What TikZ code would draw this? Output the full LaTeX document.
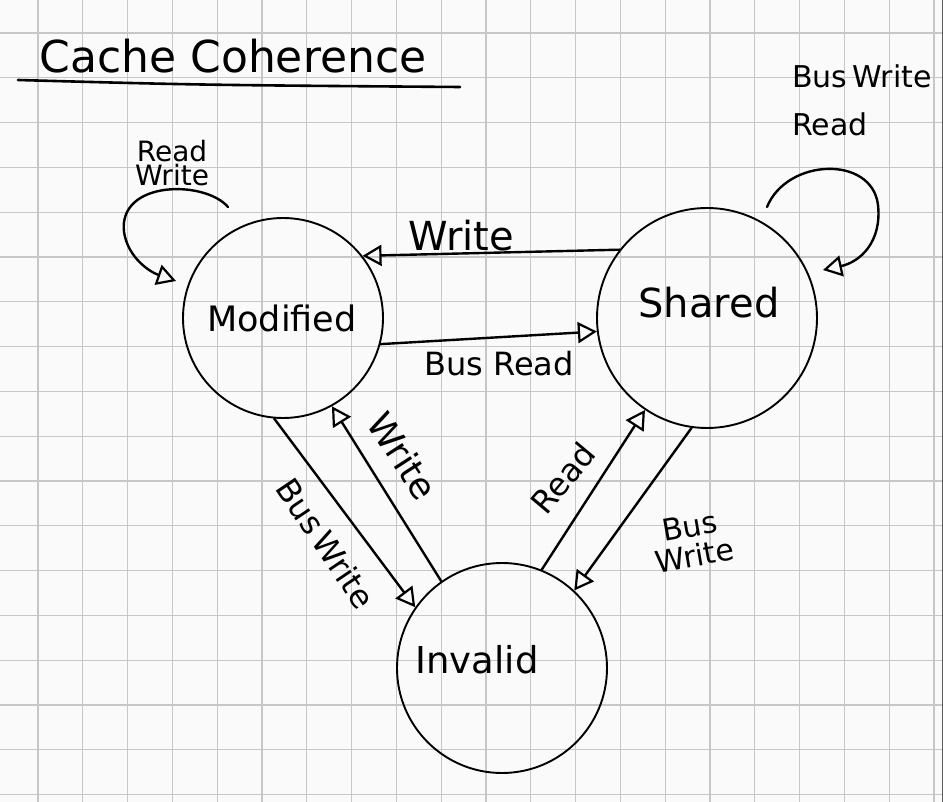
\documentclass[tikz,border=0pt]{standalone}
\usepackage{fontspec}
\setmainfont{DejaVu Sans}
\usetikzlibrary{arrows.meta}
\begin{document}
\begin{tikzpicture}[x=1pt,y=-1pt,
  gridline/.style={draw=black!22, line width=1.2pt},
  state/.style={draw=black, circle, line width=1.9pt, inner sep=0pt},
  trans/.style={draw=black, line width=2.4pt, line cap=round,
    -{Triangle[open, length=19pt, width=21pt, line width=2.2pt]}},
  lbl/.style={inner sep=0pt, text=black},
]
% background and page
\fill[white!98!black] (0,0) rectangle (943,802);
\useasboundingbox (0,0) rectangle (943,802);
\foreach \k in {0,...,20} \draw[gridline] ({38+44.8*\k},0) -- ({38+44.8*\k},802);
\foreach \k in {0,...,17} \draw[gridline] (0,{33+44.8*\k}) -- (943,{33+44.8*\k});
\draw[black!65, line width=1pt] (942.5,0) -- (942.5,802);

% title
\node[lbl, font=\fontsize{44}{50}\selectfont] (title) at (233,56) {Cache Coherence};
\coordinate (ulA) at (18,80);
\coordinate (ulB) at (460,87);
\draw[line width=2.6pt, line cap=round] (ulA) .. controls (200,85) .. (ulB);

% states
\node[state, minimum size=200pt] (M) at (283,318) {};
\node[state, minimum size=220pt] (S) at (707,318) {};
\node[state, minimum size=210pt] (I) at (502,668) {};
\node[lbl, font=\fontsize{35}{40}\selectfont] (Mt) at (282,318) {Modified};
\node[lbl, font=\fontsize{40}{44}\selectfont] (St) at (709,303) {Shared};
\node[lbl, font=\fontsize{37}{42}\selectfont] (It) at (477,660) {Invalid};

% transitions
\draw[trans] (S.142) -- (M.38);
\node[lbl, font=\fontsize{40}{44}\selectfont] (l1) at (461,236) {Write};
\draw[trans] (M.-15) -- (S.-173);
\node[lbl, font=\fontsize{32}{36}\selectfont] (l2) at (499,364) {Bus Read};

\draw[trans] (I.125) -- (M.-61);
\node[lbl, font=\fontsize{36}{40}\selectfont, rotate=-57] (l3) at (403,456) {Write};
\draw[trans] (M.-95) -- (I.145);
\node[lbl, font=\fontsize{32}{36}\selectfont, rotate=-56] (l4) at (326,543) {Bus\,Write};

\draw[trans] (I.68) -- (S.-124);
\node[lbl, font=\fontsize{32}{36}\selectfont, rotate=50] (l5) at (563,478) {Read};
\draw[trans] (S.-98) -- (I.47);
\node[lbl, font=\fontsize{30}{30}\selectfont, rotate=10, align=center] (l6) at (692,541) {Bus\\Write};

% self loops
\coordinate (mA) at (228,207);
\coordinate (mB) at (176,281);
\draw[trans] (mA) .. controls (205,180) and (118,180) .. (124,232) .. controls (128,258) and (150,272) .. (mB);
\node[lbl, font=\fontsize{28}{24}\selectfont, align=center] (l7) at (172,163) {Read\\Write};

\coordinate (sA) at (767,207);
\coordinate (sB) at (823,270);
\draw[trans] (sA) .. controls (787,158) and (872,155) .. (878,205) .. controls (882,242) and (860,262) .. (sB);
\node[lbl, font=\fontsize{30}{48}\selectfont, align=left] (l8) at (862,100) {Bus\,Write\\Read};
\end{tikzpicture}
\end{document}
